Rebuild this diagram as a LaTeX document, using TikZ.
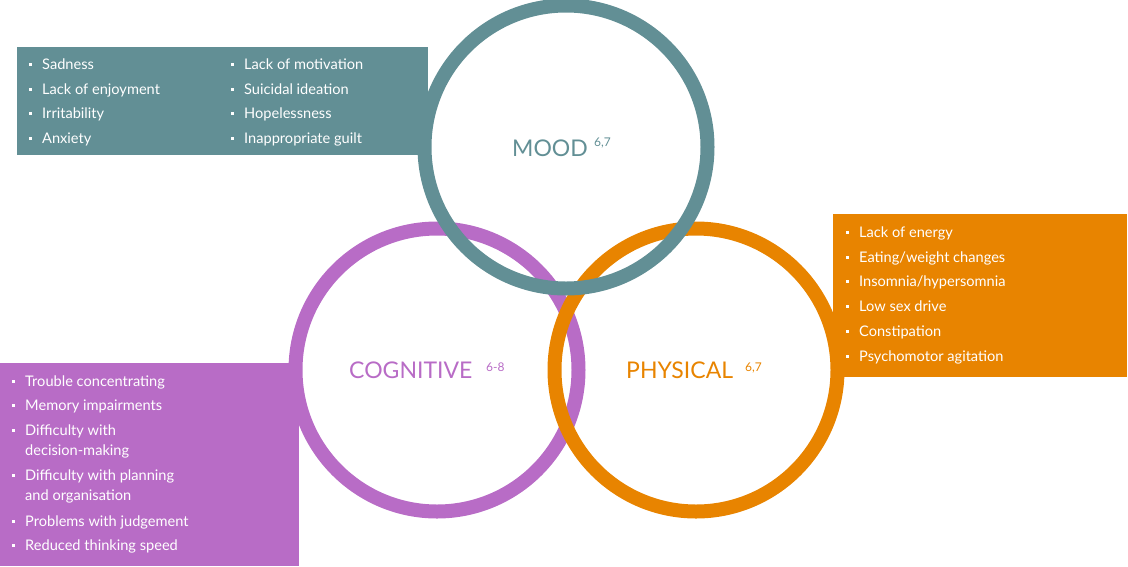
\documentclass[tikz,border=0pt]{standalone}
\usepackage{fontspec}
\setmainfont{Lato}
\usetikzlibrary{positioning}

\definecolor{moodteal}{HTML}{628F95}
\definecolor{cogpurple}{HTML}{B86CC6}
\definecolor{physorange}{HTML}{E88400}
\newcommand{\sqbullet}{\rule[3.5pt]{3pt}{3pt}\hspace{10.5pt}}

\begin{document}
\begin{tikzpicture}[x=1pt,y=-1pt,
  ring/.style={circle,draw=#1,line width=14pt,minimum size=283pt,inner sep=0pt},
  item/.style={anchor=base west,inner sep=0pt,text=white,font=\fontsize{14.6}{16}\selectfont},
  heading/.style={anchor=base west,inner sep=0pt,text=#1,font=\fontsize{23}{25}\selectfont},
  refs/.style={anchor=base west,inner sep=0pt,text=#1,font=\fontsize{12}{13}\selectfont}]
\useasboundingbox (0,0) rectangle (1128,566);

% coloured boxes behind the rings
\fill[moodteal] (17,47) rectangle (428,155);
\fill[physorange] (833,214) rectangle (1127,377);
\fill[cogpurple] (0,363) rectangle (299,566);

% rings, mood on top
\node[ring=cogpurple] (cog) at (437,370) {};
\node[ring=physorange] (phys) at (696,370) {};
\node[ring=moodteal] (mood) at (566,147) {};

\node[heading=moodteal] (moodtitle) at (512,156) {MOOD};
\node[refs=moodteal] (moodrefs) at (594,146) {6,7};
\node[heading=cogpurple] (cogtitle) at (349,378) {COGNITIVE};
\node[refs=cogpurple] (cogrefs) at (486,371) {6-8};
\node[heading=physorange] (phystitle) at (626,378) {PHYSICAL};
\node[refs=physorange] (physrefs) at (745,371) {6,7};

% mood symptoms
\node[item] (m1) at (28.5,69) {\sqbullet Sadness};
\node[item] (m2) at (28.5,94) {\sqbullet Lack of enjoyment};
\node[item] (m3) at (28.5,118) {\sqbullet Irritability};
\node[item] (m4) at (28.5,143) {\sqbullet Anxiety};
\node[item] (m5) at (230.5,69) {\sqbullet Lack of motivation};
\node[item] (m6) at (230.5,94) {\sqbullet Suicidal ideation};
\node[item] (m7) at (230.5,118) {\sqbullet Hopelessness};
\node[item] (m8) at (230.5,143) {\sqbullet Inappropriate guilt};

% physical symptoms
\node[item] (p1) at (845.5,237) {\sqbullet Lack of energy};
\node[item] (p2) at (845.5,262) {\sqbullet Eating/weight changes};
\node[item] (p3) at (845.5,286) {\sqbullet Insomnia/hypersomnia};
\node[item] (p4) at (845.5,311) {\sqbullet Low sex drive};
\node[item] (p5) at (845.5,336) {\sqbullet Constipation};
\node[item] (p6) at (845.5,361) {\sqbullet Psychomotor agitation};

% cognitive symptoms
\node[item] (c1) at (11.5,386) {\sqbullet Trouble concentrating};
\node[item] (c2) at (11.5,410) {\sqbullet Memory impairments};
\node[item] (c3) at (11.5,435) {\sqbullet Difficulty with};
\node[item] (c3b) at (25,455) {decision-making};
\node[item] (c4) at (11.5,480) {\sqbullet Difficulty with planning};
\node[item] (c4b) at (25,500) {and organisation};
\node[item] (c5) at (11.5,526) {\sqbullet Problems with judgement};
\node[item] (c6) at (11.5,550) {\sqbullet Reduced thinking speed};
\end{tikzpicture}
\end{document}
